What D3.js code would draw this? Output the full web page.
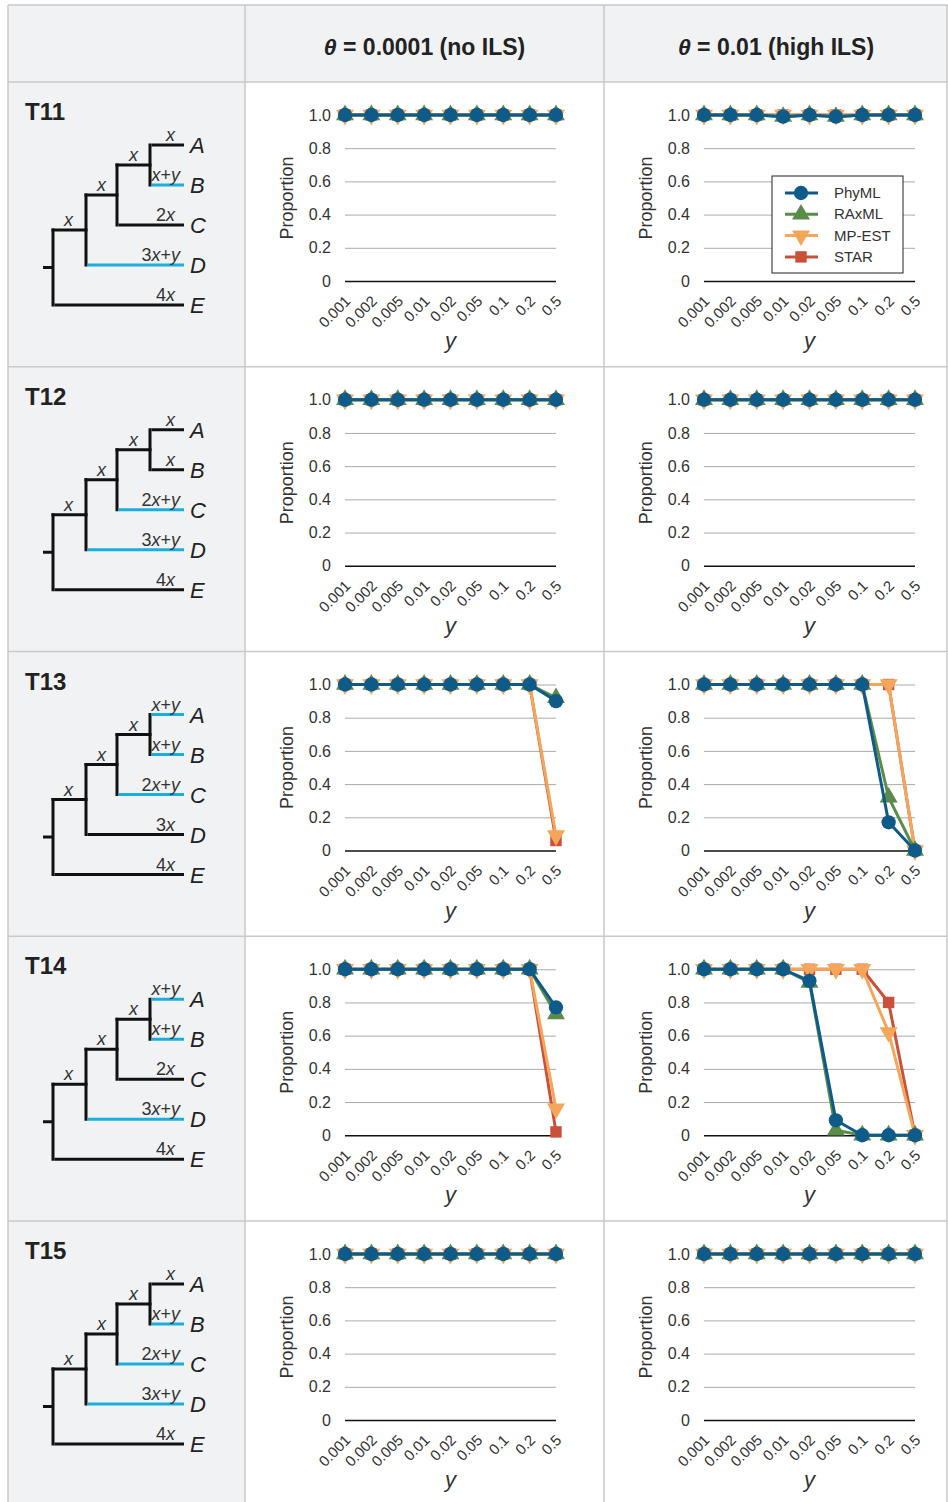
<!DOCTYPE html>
<html><head><meta charset="utf-8">
<script src="https://cdn.jsdelivr.net/npm/d3@7"></script>
<style>
html,body{margin:0;padding:0;background:#fff;}
svg{display:block;font-family:"Liberation Sans",Arial,Helvetica,sans-serif;}
</style></head>
<body>
<svg id="chart" width="948" height="1502"></svg>
<script>
// ---------- data ----------
const yValues = ["0.001","0.002","0.005","0.01","0.02","0.05","0.1","0.2","0.5"];
const methods = ["PhyML","RAxML","MP-EST","STAR"];
const methodColors = ["#0e5a89","#5b8b49","#f5a65a","#c9513a"];
const yTicks = [0,0.2,0.4,0.6,0.8,1.0];
const columnTitles = ["0.0001 (no ILS)","0.01 (high ILS)"];
const treeNames = ["T11","T12","T13","T14","T15"];
const leaves = ["A","B","C","D","E"];

// branch labels per tree (A,B,C,D,E), and which terminal branches are blue
const T11_labels = ["x","x+y","2x","3x+y","4x"]; const T11_blue = [0,1,0,1,0];
const T12_labels = ["x","x","2x+y","3x+y","4x"];  const T12_blue = [0,0,1,1,0];
const T13_labels = ["x+y","x+y","2x+y","3x","4x"]; const T13_blue = [1,1,1,0,0];
const T14_labels = ["x+y","x+y","2x","3x+y","4x"]; const T14_blue = [1,1,0,1,0];
const T15_labels = ["x","x+y","2x+y","3x+y","4x"]; const T15_blue = [0,1,1,1,0];

// proportions: rows = PhyML, RAxML, MP-EST, STAR
const T11_noILS = [[1,1,1,1,1,1,1,1,1],[1,1,1,1,1,1,1,1,1],[1,1,1,1,1,1,1,1,1],[1,1,1,1,1,1,1,1,1]];
const T11_highILS = [[1,1,1,0.99,1,0.99,1,1,1],[1,1,1,0.99,1,0.99,1,1,1],[1,1,1,1,1,1,1,1,1],[1,1,1,1,1,1,1,1,1]];
const T12_noILS = [[1,1,1,1,1,1,1,1,1],[1,1,1,1,1,1,1,1,1],[1,1,1,1,1,1,1,1,1],[1,1,1,1,1,1,1,1,1]];
const T12_highILS = [[1,1,1,1,1,1,1,1,1],[1,1,1,1,1,1,1,1,1],[1,1,1,1,1,1,1,1,1],[1,1,1,1,1,1,1,1,1]];
const T13_noILS = [[1,1,1,1,1,1,1,1,0.90],[1,1,1,1,1,1,1,1,0.92],[1,1,1,1,1,1,1,1,0.09],[1,1,1,1,1,1,1,1,0.06]];
const T13_highILS = [[1,1,1,1,1,1,1,0.17,0],[1,1,1,1,1,1,1,0.32,0],[1,1,1,1,1,1,1,1,0],[1,1,1,1,1,1,1,1,0]];
const T14_noILS = [[1,1,1,1,1,1,1,1,0.77],[1,1,1,1,1,1,1,1,0.73],[1,1,1,1,1,1,1,1,0.16],[1,1,1,1,1,1,1,1,0.02]];
const T14_highILS = [[1,1,1,1,0.93,0.09,0,0,0],[1,1,1,1,0.92,0.03,0,0,0],[1,1,1,1,1,1,1,0.62,0],[1,1,1,1,1,1,1,0.80,0]];
const T15_noILS = [[1,1,1,1,1,1,1,1,1],[1,1,1,1,1,1,1,1,1],[1,1,1,1,1,1,1,1,1],[1,1,1,1,1,1,1,1,1]];
const T15_highILS = [[1,1,1,1,1,1,1,1,1],[1,1,1,1,1,1,1,1,1],[1,1,1,1,1,1,1,1,1],[1,1,1,1,1,1,1,1,1]];

const rowsData = [
  {name:"T11", labels:T11_labels, blue:T11_blue, panels:[T11_noILS,T11_highILS]},
  {name:"T12", labels:T12_labels, blue:T12_blue, panels:[T12_noILS,T12_highILS]},
  {name:"T13", labels:T13_labels, blue:T13_blue, panels:[T13_noILS,T13_highILS]},
  {name:"T14", labels:T14_labels, blue:T14_blue, panels:[T14_noILS,T14_highILS]},
  {name:"T15", labels:T15_labels, blue:T15_blue, panels:[T15_noILS,T15_highILS]}
];

// ---------- layout ----------
const svg = d3.select("#chart");
const colX = [8, 245, 604, 948];
const headerTop = 5, headerBottom = 82;
const rowH = 284.75;
const rowTop = i => headerBottom + i*rowH;
const gridCol = "#c9c9c9";
const textCol = "#333";

// backgrounds
svg.append("rect").attr("x",colX[0]).attr("y",headerTop).attr("width",colX[3]-colX[0]).attr("height",headerBottom-headerTop).attr("fill","#f1f2f4");
svg.append("rect").attr("x",colX[0]).attr("y",headerBottom).attr("width",colX[1]-colX[0]).attr("height",1502-headerBottom).attr("fill","#f1f2f4");

// header titles
columnTitles.forEach((t,i)=>{
  const cx = (colX[i+1]+colX[i+2])/2;
  const tx = svg.append("text").attr("x",cx).attr("y",55).attr("text-anchor","middle")
    .attr("font-size",23).attr("font-weight","bold").attr("fill","#222");
  tx.append("tspan").attr("font-style","italic").text("θ");
  tx.append("tspan").text(" = "+t);
});

// ---------- trees ----------
function branchLabel(g, x, y, label, anchor){
  const t = g.append("text").attr("x",x).attr("y",y).attr("text-anchor",anchor)
    .attr("font-size",18).attr("fill",textCol);
  const parts = label.match(/[0-9]+|[a-z]|\+/g);
  parts.forEach(p=>{
    t.append("tspan").attr("font-style", /[a-z]/.test(p) ? "italic" : "normal").text(p);
  });
}

rowsData.forEach((row,ri)=>{
  const top = rowTop(ri);
  const g = svg.append("g").attr("transform",`translate(0,${top})`);
  g.append("text").attr("x",25).attr("y",38).attr("font-size",24).attr("font-weight","bold").attr("fill","#222").text(row.name);

  const leafY = [63,103,143,183,223];
  const xRoot = 53, xN1 = 86, xN2 = 117, xN3 = 150, xLeaf = 184;
  const yN3 = (leafY[0]+leafY[1])/2;
  const yN2 = (yN3+leafY[2])/2;
  const yN1 = (yN2+leafY[3])/2;
  const yRoot = (yN1+leafY[4])/2;
  const black = "#111", blue = "#19afda", sw = 3;
  const line = (x1,y1,x2,y2,c)=>g.append("line").attr("x1",x1).attr("y1",y1).attr("x2",x2).attr("y2",y2)
      .attr("stroke",c).attr("stroke-width",sw).attr("stroke-linecap","square");
  line(xRoot,yN1,xRoot,leafY[4],black);
  line(xN1,yN2,xN1,leafY[3],black);
  line(xN2,yN3,xN2,leafY[2],black);
  line(xN3,leafY[0],xN3,leafY[1],black);
  g.append("line").attr("x1",43).attr("y1",yRoot).attr("x2",xRoot).attr("y2",yRoot).attr("stroke",black).attr("stroke-width",sw);
  line(xRoot,yN1,xN1,yN1,black);
  line(xN1,yN2,xN2,yN2,black);
  line(xN2,yN3,xN3,yN3,black);
  const starts = [xN3,xN3,xN2,xN1,xRoot];
  leaves.forEach((l,k)=>{
    g.append("line").attr("x1",starts[k]+1.5).attr("y1",leafY[k]).attr("x2",xLeaf).attr("y2",leafY[k])
      .attr("stroke",row.blue[k]?blue:black).attr("stroke-width",sw);
    g.append("text").attr("x",190).attr("y",leafY[k]+8).attr("font-size",22).attr("font-style","italic").attr("fill","#222").text(l);
    const lab = row.labels[k];
    branchLabel(g, /y$/.test(lab) ? 180 : 175, leafY[k]-4, lab, "end");
  });
  branchLabel(g,(xRoot+xN1)/2-1,yN1-4,"x","middle");
  branchLabel(g,(xN1+xN2)/2,yN2-4,"x","middle");
  branchLabel(g,(xN2+xN3)/2,yN3-4,"x","middle");

  // ---------- plots ----------
  row.panels.forEach((panel,pi)=>{
    const cl = colX[pi+1];
    const x = d3.scalePoint().domain(yValues).range([cl+100, cl+311]);
    const y = d3.scaleLinear().domain([0,1]).range([199,33]);
    const pg = g.append("g");
    const ya = pg.append("g").attr("transform",`translate(${cl+100},0)`)
      .call(d3.axisLeft(y).tickValues(yTicks).tickSize(-211).tickPadding(14)
        .tickFormat(d=>d===0?"0":d3.format(".1f")(d)));
    ya.select(".domain").remove();
    ya.selectAll(".tick line").attr("stroke","#aaa").attr("stroke-width",1);
    ya.selectAll(".tick").filter(d=>d===0).select("line").attr("stroke","#111").attr("stroke-width",1.6);
    ya.selectAll(".tick text").attr("font-size",16).attr("fill",textCol).attr("font-family","Liberation Sans, Arial, sans-serif");
    const xa = pg.append("g").attr("transform",`translate(0,199)`)
      .call(d3.axisBottom(x).tickSize(0).tickPadding(0));
    xa.select(".domain").remove();
    xa.selectAll(".tick text").attr("font-size",15).attr("fill",textCol)
      .attr("font-family","Liberation Sans, Arial, sans-serif")
      .attr("text-anchor","end").attr("y",0).attr("dy",0)
      .attr("transform","translate(6,21) rotate(-45)");
    pg.append("text").attr("x",(cl+100+cl+311)/2).attr("y",266).attr("text-anchor","middle")
      .attr("font-size",22).attr("font-style","italic").attr("fill",textCol).text("y");
    pg.append("text").attr("transform",`translate(${cl+48},116) rotate(-90)`).attr("text-anchor","middle")
      .attr("font-size",18).attr("fill",textCol).text("Proportion");

    const symbols = [
      d3.symbol().type(d3.symbolCircle).size(160),
      d3.symbol().type(d3.symbolTriangle).size(140),
      d3.symbol().type(d3.symbolTriangle).size(140),
      d3.symbol().type(d3.symbolSquare).size(130)
    ];
    const rot = [0,0,180,0];
    const lineGen = d3.line().x((d,i)=>x(yValues[i])).y(d=>y(d));
    [3,2,1,0].forEach(si=>{
      const vals = panel[si];
      pg.append("path").attr("d",lineGen(vals)).attr("fill","none")
        .attr("stroke",methodColors[si]).attr("stroke-width",3).attr("stroke-linejoin","round");
      pg.selectAll(null).data(vals).enter().append("path")
        .attr("d",symbols[si]())
        .attr("transform",(d,i)=>`translate(${x(yValues[i])},${y(d)}) rotate(${rot[si]})`)
        .attr("fill",methodColors[si]);
    });

    if(ri===0 && pi===1){
      const lg = pg.append("g");
      lg.append("rect").attr("x",cl+168).attr("y",94).attr("width",131).attr("height",97)
        .attr("fill","#fff").attr("stroke","#222").attr("stroke-width",1);
      methods.forEach((m,k)=>{
        const ly = 111 + k*21.3;
        lg.append("line").attr("x1",cl+181).attr("x2",cl+214).attr("y1",ly).attr("y2",ly)
          .attr("stroke",methodColors[k]).attr("stroke-width",3);
        lg.append("path").attr("d",symbols[k]()).attr("transform",`translate(${cl+197},${ly}) rotate(${rot[k]})`)
          .attr("fill",methodColors[k]);
        lg.append("text").attr("x",cl+230).attr("y",ly+5).attr("font-size",15).attr("fill",textCol).text(m);
      });
    }
  });
});

// ---------- table borders ----------
const bg = svg.append("g").attr("stroke",gridCol).attr("stroke-width",1.5).attr("fill","none");
bg.append("line").attr("x1",colX[0]).attr("x2",colX[3]).attr("y1",headerTop).attr("y2",headerTop);
bg.append("line").attr("x1",colX[0]).attr("x2",colX[3]).attr("y1",headerBottom).attr("y2",headerBottom);
for(let i=1;i<5;i++) bg.append("line").attr("x1",colX[0]).attr("x2",colX[3]).attr("y1",rowTop(i)).attr("y2",rowTop(i));
[colX[0],colX[1],colX[2],947].forEach(cx=>bg.append("line").attr("x1",cx).attr("x2",cx).attr("y1",headerTop).attr("y2",1502));
</script>
</body></html>
